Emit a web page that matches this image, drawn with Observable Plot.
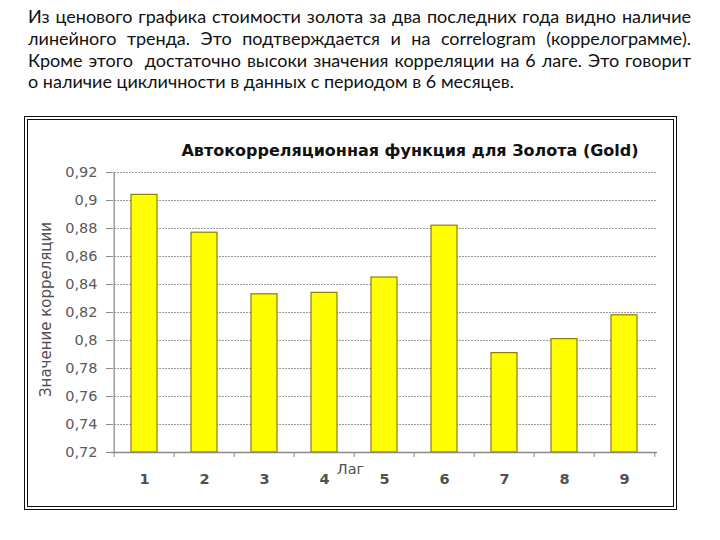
<!DOCTYPE html>
<html>
<head>
<meta charset="utf-8">
<script src="https://cdn.jsdelivr.net/npm/d3@7"></script>
<script src="https://cdn.jsdelivr.net/npm/@observablehq/plot@0.6"></script>
<style>
  html, body { margin: 0; padding: 0; background: #fff; }
  body { position: relative; width: 720px; height: 540px; overflow: hidden; }
  #para { position: absolute; left: 28px; top: 6px; width: 663px; font-family: Lato, "Noto Sans", sans-serif; font-size: 18px; line-height: 21.8px; color: #111; }
  #para div { text-align: justify; text-align-last: justify; white-space: normal; }
  #para div.last { text-align-last: left; }
  #frame { position: absolute; left: 24px; top: 116px; width: 653px; height: 394px; box-sizing: border-box; border: 4px double #111; }
  #title { position: absolute; left: 110px; width: 600px; top: 141px; text-align: center; font-family: "DejaVu Sans", sans-serif; font-weight: bold; font-size: 16px; color: #111; }
  #chart { position: absolute; left: 28px; top: 160px; }
  #chart svg { overflow: visible; }
</style>
</head>
<body>
<div id="para">
  <div>Из ценового графика стоимости золота за два последних года видно наличие</div>
  <div>линейного тренда. Это подтверждается и на correlogram (коррелограмме).</div>
  <div>Кроме этого&nbsp; достаточно высоки значения корреляции на 6 лаге. Это говорит</div>
  <div class="last">о наличие цикличности в данных с периодом в 6 месяцев.</div>
</div>
<div id="frame"></div>
<div id="title">Автокорреляционная функция для Золота (Gold)</div>
<div id="chart"></div>
<script>
const lags = [1, 2, 3, 4, 5, 6, 7, 8, 9];
const correlations = [0.904, 0.877, 0.833, 0.834, 0.845, 0.882, 0.791, 0.801, 0.818];
const yTicks = [0.72, 0.74, 0.76, 0.78, 0.80, 0.82, 0.84, 0.86, 0.88, 0.90, 0.92];
const yTickLabels = ["0,72", "0,74", "0,76", "0,78", "0,8", "0,82", "0,84", "0,86", "0,88", "0,9", "0,92"];
const yLabel = "Значение корреляции";
const xLabel = "Лаг";

const data = lags.map((lag, i) => ({lag, value: correlations[i]}));

const W = 644, H = 345, mL = 83, mR = 15, mT = 12, mB = 53;
const step = (W - mL - mR) / lags.length;
const axisColor = "#8a8a8a";

const chart = Plot.plot({
  width: W,
  height: H,
  marginLeft: mL,
  marginRight: mR,
  marginTop: mT,
  marginBottom: mB,
  style: {fontFamily: "'DejaVu Sans', sans-serif", background: "transparent", color: "#555", overflow: "visible"},
  x: {type: "band", domain: lags, paddingInner: 0.57, paddingOuter: 0.285, axis: null},
  y: {domain: [yTicks[0], yTicks[yTicks.length - 1]], clamp: true, axis: null},
  marks: [
    Plot.gridY(yTicks, {stroke: "#9a9a9a", strokeOpacity: 1, strokeDasharray: "2,1"}),
    Plot.axisY(yTicks, {
      tickSize: 5, tickPadding: 9, stroke: axisColor, fill: "#5a5a5a", fontSize: 14.5,
      tickFormat: d => yTickLabels[yTicks.indexOf(d)], label: null
    }),
    Plot.barY(data, {x: "lag", y: "value", fill: "#FFFF00", stroke: "#8d7d00", strokeWidth: 1.2}),
    Plot.ruleY([yTicks[0]], {stroke: axisColor, strokeWidth: 1.3}),
    Plot.ruleX([lags[0]], {x: d => d, dx: -step / 2, stroke: axisColor, strokeWidth: 1.3}),
    Plot.ruleX(lags, {x: d => d, y1: yTicks[0], y2: yTicks[0], insetBottom: -5, dx: -step / 2, stroke: axisColor}),
    Plot.ruleX([lags[lags.length - 1]], {x: d => d, y1: yTicks[0], y2: yTicks[0], insetBottom: -5, dx: step / 2, stroke: axisColor}),
    Plot.axisX(lags, {tickSize: 0, tickPadding: 21, fill: "#505050", fontSize: 14.5, fontWeight: "bold", label: null}),
    Plot.text([xLabel], {text: d => d, frameAnchor: "bottom", dx: -34, dy: 21, fontSize: 14.5, fill: "#505050"}),
    Plot.text([yLabel], {text: d => d, frameAnchor: "left", textAnchor: "middle", rotate: -90, dx: -65, dy: -3, fontSize: 15, fill: "#505050"})
  ]
});
document.getElementById("chart").appendChild(chart);
</script>
</body>
</html>
